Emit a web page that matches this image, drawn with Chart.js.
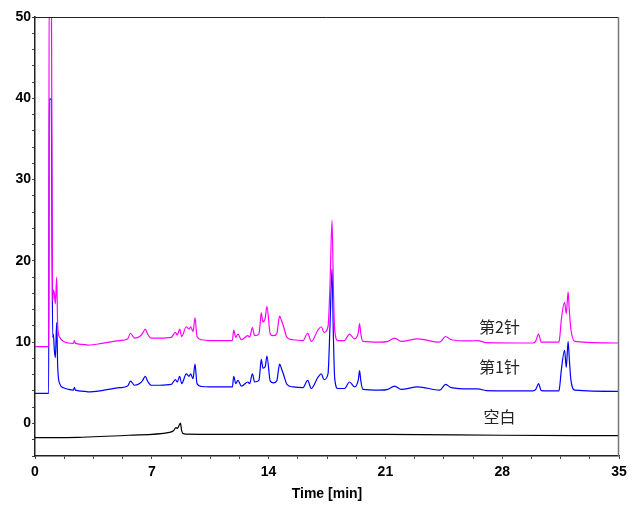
<!DOCTYPE html>
<html>
<head>
<meta charset="utf-8">
<script src="https://cdn.jsdelivr.net/npm/chart.js@4/dist/chart.umd.min.js"></script>
<style>
  html, body { margin: 0; padding: 0; background: #fff; }
  #wrap { width: 639px; height: 511px; }
</style>
</head>
<body>
<div id="wrap"><canvas id="chrom" width="639" height="511"></canvas></div>
<script>
// retention time (min) shared by the two injections
const timeInj = [0, 0.82, 0.85, 0.98, 1.02, 1.06, 1.10, 1.16, 1.22, 1.30, 1.36, 1.48, 1.7, 2.0, 2.3, 2.36, 2.42, 3.0, 3.2, 4.0,
  5.07, 5.55, 5.72, 5.97, 6.33, 6.45, 6.61, 6.75, 6.97, 7.47, 8.17, 8.41, 8.53, 8.67, 8.79, 9.07, 9.23, 9.33, 9.47, 9.59, 9.71, 9.97, 10.47,
  11.83, 11.91, 12.03, 12.16, 12.37, 12.76, 12.86, 13.03, 13.16, 13.42, 13.48, 13.56, 13.66, 13.80, 13.90, 14.10, 14.30, 14.50,
  14.58, 14.66, 14.78, 14.90,
  15.10, 15.46, 16.06, 16.34, 16.56, 16.96, 17.16, 17.32, 17.56, 17.68, 17.80, 17.88, 17.96, 18.15, 18.55, 18.85, 19.15, 19.38,
  19.45, 19.53, 19.65, 20.65, 21.15, 21.55, 21.95, 22.95, 24.25, 24.61, 24.95, 26.05, 26.54, 27.05, 29.84, 30.0, 30.18, 30.34,
  31.40, 31.46, 31.54, 31.74, 31.84, 31.95, 32.02, 32.11, 32.35, 35];

// 第2针 (second injection, magenta)
const inj2 = [9.45, 9.45, 55, 55, 28.4, 15.1, 16.4, 16.0, 14.7, 18.0, 12.0, 10.6, 10.1, 9.9, 9.85, 10.2, 9.85, 9.7, 9.65, 9.85,
  10.2, 10.4, 11.1, 10.5, 10.8, 11.1, 11.6, 11.0, 10.5, 10.5, 10.6, 11.2, 10.9, 11.6, 10.7, 11.9, 11.6, 11.9, 11.3, 13.0, 10.7, 10.3, 10.2,
  10.2, 11.5, 10.6, 11.0, 10.3, 10.8, 10.6, 11.8, 10.8, 11.0, 12.0, 13.6, 12.5, 13.0, 14.4, 11.0, 10.8, 11.1,
  12.3, 13.2, 12.6, 11.9,
  10.6, 10.3, 10.2, 11.1, 10.1, 11.5, 11.9, 11.2, 11.9, 17.0, 25.0, 17.0, 11.5, 10.2, 10.2, 11.0, 10.4, 11.2,
  12.3, 11.0, 10.1, 10.0, 10.1, 10.5, 10.1, 10.4, 10.0, 10.7, 10.3, 10.15, 10.2, 9.95, 9.9, 10.1, 11.0, 10.0,
  10.0, 10.8, 12.7, 14.9, 13.5, 16.2, 14.0, 11.7, 10.1, 9.9];

// 第1针 (first injection, blue)
const inj1 = [3.7, 3.7, 39.9, 39.9, 22.8, 10.6, 11.0, 9.0, 8.1, 12.4, 7.0, 4.9, 4.4, 4.2, 4.1, 4.45, 4.1, 3.95, 3.9, 4.05,
  4.4, 4.6, 5.2, 4.7, 5.0, 5.3, 5.8, 5.2, 4.7, 4.7, 4.8, 5.4, 5.1, 5.8, 4.9, 6.1, 5.8, 6.1, 5.5, 7.3, 4.9, 4.55, 4.5,
  4.5, 5.8, 4.9, 5.3, 4.6, 5.1, 4.9, 6.1, 5.1, 5.3, 6.3, 7.9, 6.8, 7.0, 8.3, 5.2, 5.0, 5.3,
  6.4, 7.3, 6.7, 6.0,
  4.8, 4.5, 4.4, 5.3, 4.3, 5.7, 6.1, 5.4, 6.1, 12.0, 19.0, 11.0, 5.6, 4.3, 4.3, 5.1, 4.5, 5.4,
  6.5, 5.2, 4.2, 4.1, 4.2, 4.6, 4.2, 4.5, 4.1, 4.8, 4.4, 4.25, 4.25, 4.05, 4.0, 4.15, 4.9, 4.05,
  4.0, 4.8, 6.5, 9.0, 6.9, 10.1, 8.0, 5.5, 4.1, 3.95];

// 空白 (blank, black)
const timeBlank = [0, 2.6, 5.6, 8.05, 8.3, 8.45, 8.53, 8.62, 8.72, 8.78, 8.85, 9.05, 14, 21, 28, 35];
const blank = [-1.75, -1.7, -1.45, -1.1, -0.9, -0.5, -0.6, -0.3, 0.04, -0.8, -1.2, -1.3, -1.35, -1.35, -1.45, -1.5];

const traceNames = ['第2针', '第1针', '空白'];
const traceColors = ['#ff00ff', '#0000ff', '#000000'];
// where the trace names sit, in data units (min, value)
const nameX = [27.84, 27.84, 27.84];
const nameY = [11.86, 6.93, 0.78];

function pairs(xs, ys) {
  return xs.map((x, i) => ({ x: x, y: ys[i] }));
}

const traceLabels = {
  id: 'traceLabels',
  afterDatasetsDraw(chart) {
    const ctx = chart.ctx;
    const xs = chart.scales.x, ys = chart.scales.y;
    ctx.save();
    ctx.font = '16px "Noto Sans CJK SC"';
    ctx.fillStyle = '#222';
    ctx.textAlign = 'center';
    ctx.textBaseline = 'middle';
    traceNames.forEach((name, i) => {
      ctx.fillText(name, xs.getPixelForValue(nameX[i]), ys.getPixelForValue(nameY[i]));
    });
    // top and right frame
    const a = chart.chartArea;
    ctx.strokeStyle = '#222';
    ctx.lineWidth = 1;
    ctx.beginPath();
    ctx.moveTo(a.left, a.top + 0.5);
    ctx.lineTo(a.right - 0.5, a.top + 0.5);
    ctx.stroke();
    ctx.beginPath();
    ctx.moveTo(a.right - 0.5, a.top);
    ctx.lineTo(a.right - 0.5, a.bottom);
    ctx.strokeStyle = '#777';
    ctx.lineWidth = 1.5;
    ctx.stroke();
    ctx.restore();
  }
};

const tickFont = { family: '"Liberation Sans", Arial, sans-serif', size: 14, weight: 'bold' };

new Chart(document.getElementById('chrom'), {
  type: 'line',
  data: {
    datasets: [
      { label: traceNames[0], data: pairs(timeInj, inj2), borderColor: traceColors[0], borderWidth: 1.2 },
      { label: traceNames[1], data: pairs(timeInj, inj1), borderColor: traceColors[1], borderWidth: 1.2 },
      { label: traceNames[2], data: pairs(timeBlank, blank), borderColor: traceColors[2], borderWidth: 1.2 }
    ]
  },
  options: {
    responsive: false,
    animation: false,
    elements: { point: { radius: 0 }, line: { cubicInterpolationMode: 'monotone' } },
    layout: { padding: { top: 17, right: 20, left: 0, bottom: 0 } },
    plugins: { legend: { display: false }, tooltip: { enabled: false } },
    scales: {
      x: {
        type: 'linear',
        min: 0,
        max: 35,
        afterFit(scale) { scale.height = 55; },
        border: { color: '#222', width: 1.5 },
        grid: { drawOnChartArea: false, drawTicks: true, tickLength: 3, color: '#444' },
        ticks: {
          stepSize: 1.75,
          autoSkip: false,
          maxRotation: 0,
          padding: 5,
          color: '#000',
          font: tickFont,
          callback: v => (Math.abs(v % 7) < 1e-6 ? String(v) : '')
        },
        title: { display: true, text: 'Time [min]', color: '#000', font: tickFont, padding: { top: 2, bottom: 8 } }
      },
      y: {
        min: -4,
        max: 50,
        afterFit(scale) { scale.width = 35; },
        border: { color: '#222', width: 1.5 },
        grid: { drawOnChartArea: false, drawTicks: true, tickLength: 3, color: '#444' },
        ticks: {
          stepSize: 2,
          autoSkip: false,
          padding: 1,
          color: '#000',
          font: tickFont,
          callback: v => (Math.abs(v % 10) < 1e-6 ? String(v) : '')
        }
      }
    }
  },
  plugins: [traceLabels]
});
</script>
</body>
</html>
